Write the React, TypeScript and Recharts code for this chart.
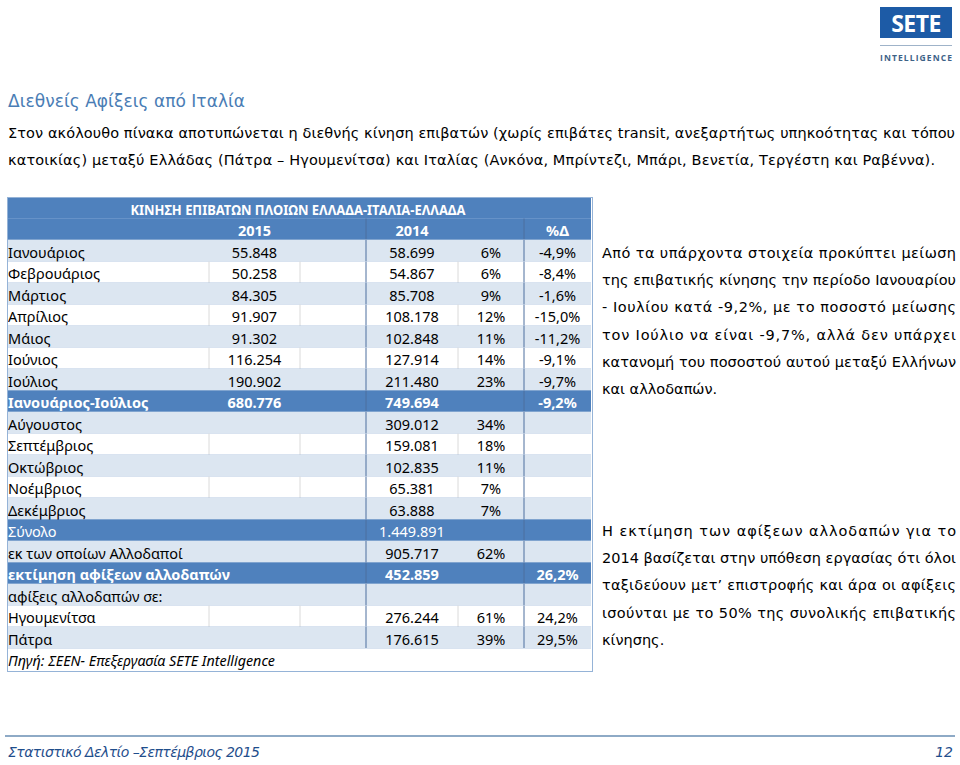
import React from "react";
import { BarChart, Bar, XAxis, YAxis } from "recharts";

// table rows (months and summary lines)
const rowLabels = [
  "Ιανουάριος",
  "Φεβρουάριος",
  "Μάρτιος",
  "Απρίλιος",
  "Μάιος",
  "Ιούνιος",
  "Ιούλιος",
  "Ιανουάριος-Ιούλιος",
  "Αύγουστος",
  "Σεπτέμβριος",
  "Οκτώβριος",
  "Νοέμβριος",
  "Δεκέμβριος",
  "Σύνολο",
  "εκ των οποίων Αλλοδαποί",
  "εκτίμηση αφίξεων αλλοδαπών",
  "αφίξεις αλλοδαπών σε:",
  "Ηγουμενίτσα",
  "Πάτρα",
];

const passengers2015 = [
  55848, 50258, 84305, 91907, 91302, 116254, 190902, 680776,
  null, null, null, null, null, null, null, null, null, null, null,
];

const passengers2014 = [
  58699, 54867, 85708, 108178, 102848, 127914, 211480, 749694,
  309012, 159081, 102835, 65381, 63888, 1449891, 905717, 452859, null, 276244, 176615,
];

const share2014 = [6, 6, 9, 12, 11, 14, 23, null, 34, 18, 11, 7, 7, null, 62, null, null, 61, 39];

const changePct = [
  -4.9, -8.4, -1.6, -15.0, -11.2, -9.1, -9.7, -9.2,
  null, null, null, null, null, null, null, 26.2, null, 24.2, 29.5,
];

const rowKinds = [
  "light", "white", "light", "white", "light", "white", "light", "darkBold",
  "light", "white", "light", "white", "light", "dark", "light", "darkBold",
  "light", "white", "light",
];

const TABLE_TITLE = "ΚΙΝΗΣΗ ΕΠΙΒΑΤΩΝ ΠΛΟΙΩΝ ΕΛΛΑΔΑ-ΙΤΑΛΙΑ-ΕΛΛΑΔΑ";
const yearLabels = ["2015", "2014", "%Δ"];
const SOURCE = "Πηγή: ΣΕΕΝ- Επεξεργασία SETE Intelligence";

const textLeft = [
  "Από τα υπάρχοντα στοιχεία προκύπτει μείωση",
  "της επιβατικής κίνησης την περίοδο Ιανουαρίου",
  "- Ιουλίου κατά -9,2%, με το ποσοστό μείωσης",
  "τον Ιούλιο να είναι -9,7%, αλλά δεν υπάρχει",
  "κατανομή του ποσοστού αυτού μεταξύ Ελλήνων",
  "και αλλοδαπών.",
];
const textRight = [
  "Η εκτίμηση των αφίξεων αλλοδαπών για το",
  "2014 βασίζεται στην υπόθεση εργασίας ότι όλοι",
  "ταξιδεύουν μετ’ επιστροφής και άρα οι αφίξεις",
  "ισούνται με το 50% της συνολικής επιβατικής",
  "κίνησης.",
];

const BLUE = "#4f81bd";
const LIGHT = "#dce6f1";
const TABLE_FONT = "'Noto Sans', sans-serif";
const PAGE_FONT = "'DejaVu Sans', Verdana, sans-serif";

const fmtInt = (n: number | null) =>
  n == null ? "" : String(n).replace(/\B(?=(\d{3})+(?!\d))/g, ".");
const fmtPct = (n: number | null) =>
  n == null ? "" : n.toFixed(1).replace(".", ",") + "%";

type Row = {
  key: string;
  kind: string;
  label: string;
  n: number;
  c2015: string;
  c2014: string;
  share: string;
  change: string;
};

const rows: Row[] = [
  { key: "h1", kind: "head1", label: "", n: 0, c2015: "", c2014: "", share: "", change: "" },
  { key: "h2", kind: "head2", label: "", n: 0, c2015: "", c2014: "", share: "", change: "" },
  ...rowLabels.map((label, i) => ({
    key: label,
    kind: rowKinds[i],
    label,
    n: passengers2014[i] ?? 0,
    c2015: fmtInt(passengers2015[i]),
    c2014: fmtInt(passengers2014[i]),
    share: share2014[i] == null ? "" : share2014[i] + "%",
    change: fmtPct(changePct[i]),
  })),
  { key: "src", kind: "source", label: SOURCE, n: 0, c2015: "", c2014: "", share: "", change: "" },
];

// column edges relative to the table's left side
const COL = { a: 202, b: 293, c: 359, d: 451, e: 517 };

function TableRow(props: any) {
  const { x, y, width, height, index } = props;
  const r: Row = rows[index];
  if (!r) return null;
  const cy = y + height / 2 + 0.5;
  const dark = r.kind.startsWith("dark") || r.kind.startsWith("head");
  const bg = dark ? BLUE : r.kind === "light" ? LIGHT : "#ffffff";
  const color = dark ? "#ffffff" : "#000000";
  const weight = r.kind === "darkBold" || r.kind.startsWith("head") ? 700 : 400;
  const txt = (tx: number, s: string, anchor: "start" | "middle" = "middle") =>
    s ? (
      <text
        x={x + tx}
        y={cy}
        dominantBaseline="central"
        textAnchor={anchor}
        fontFamily={TABLE_FONT}
        fontSize={14.5}
        fontWeight={weight}
        fill={color}
      >
        {s}
      </text>
    ) : null;

  return (
    <g>
      <rect x={x} y={y} width={width} height={height} fill={bg} />
      {r.kind === "white" &&
        [COL.a, COL.b, COL.d].map((cx) => (
          <line key={cx} x1={x + cx} x2={x + cx} y1={y} y2={y + height} stroke="#dadada" />
        ))}
      {r.kind !== "head1" && r.kind !== "source" &&
        [COL.c, COL.e].map((cx) => (
          <line key={cx} x1={x + cx} x2={x + cx} y1={y} y2={y + height} stroke="#4d6e9e" />
        ))}
      {r.kind !== "source" && (
        <line
          x1={x}
          x2={x + width}
          y1={y + height - 0.5}
          y2={y + height - 0.5}
          stroke={r.kind === "head1" ? "#7fa3d3" : "#b2c6e0"}
        />
      )}
      {r.kind === "head1" && (
        <text
          x={x + 291}
          y={cy}
          dominantBaseline="central"
          textAnchor="middle"
          fontFamily={TABLE_FONT}
          fontSize={14.5}
          fontWeight={700}
          fill="#ffffff"
          textLength={335}
          lengthAdjust="spacingAndGlyphs"
        >
          {TABLE_TITLE}
        </text>
      )}
      {r.kind === "head2" && (
        <>
          {txt((COL.a + COL.b) / 2, yearLabels[0])}
          {txt((COL.c + COL.d) / 2, yearLabels[1])}
          {txt((COL.e + width) / 2, yearLabels[2])}
        </>
      )}
      {r.kind === "source" ? (
        <text
          x={x + 1}
          y={cy}
          dominantBaseline="central"
          fontFamily={TABLE_FONT}
          fontSize={14}
          fontStyle="italic"
          fill="#000"
          textLength={267}
          lengthAdjust="spacingAndGlyphs"
        >
          {r.label}
        </text>
      ) : (
        txt(1, r.label, "start")
      )}
      {txt((COL.a + COL.b) / 2, r.c2015)}
      {txt((COL.c + COL.d) / 2, r.c2014)}
      {txt((COL.d + COL.e) / 2, r.share)}
      {txt((COL.e + width) / 2, r.change)}
    </g>
  );
}

function PassengerTable() {
  return (
    <BarChart
      width={584}
      height={473}
      data={rows}
      layout="vertical"
      margin={{ top: 0, right: 0, bottom: 0, left: 0 }}
      barCategoryGap={0}
    >
      <XAxis type="number" hide />
      <YAxis type="category" dataKey="key" hide />
      <Bar
        dataKey="n"
        isAnimationActive={false}
        background={(p: any) => <TableRow key={p.index} {...p} />}
        shape={() => <g />}
      />
    </BarChart>
  );
}

const line = (s: string, x: number, y: number, w?: number) => (
  <text
    x={x}
    y={y}
    fontFamily={PAGE_FONT}
    fontSize={14.5}
    fill="#000"
    textLength={w}
    lengthAdjust={w ? "spacing" : undefined}
  >
    {s}
  </text>
);

export default function App() {
  return (
    <div style={{ position: "absolute", left: 0, top: 0, width: 960, height: 765, background: "#fff", overflow: "hidden" }}>
      <svg width={960} height={765} style={{ position: "absolute", left: 0, top: 0 }}>
        {/* logo */}
        <rect x={880} y={7} width={72} height={31} fill="#1d5ba6" />
        <text x={916} y={32} textAnchor="middle" fontFamily="'Open Sans', sans-serif" fontWeight={700} fontSize={23} fill="#fff" letterSpacing={-0.5}>
          SETE
        </text>
        <line x1={880} x2={952} y1={45.5} y2={45.5} stroke="#9fb3c9" />
        <text x={916} y={61} textAnchor="middle" fontFamily="'Open Sans', sans-serif" fontWeight={700} fontSize={8.5} fill="#3e6287" textLength={72} lengthAdjust="spacing">
          INTELLIGENCE
        </text>

        <text x={8} y={107} fontFamily={PAGE_FONT} fontSize={17} fill="#4a7db5" textLength={237} lengthAdjust="spacing">
          Διεθνείς Αφίξεις από Ιταλία
        </text>
        {line("Στον ακόλουθο πίνακα αποτυπώνεται η διεθνής κίνηση επιβατών (χωρίς επιβάτες transit, ανεξαρτήτως υπηκοότητας και τόπου", 8, 138, 947)}
        {line("κατοικίας) μεταξύ Ελλάδας (Πάτρα – Ηγουμενίτσα) και Ιταλίας (Ανκόνα, Μπρίντεζι, Μπάρι, Βενετία, Τεργέστη και Ραβέννα).", 8, 165, 927)}

        {textLeft.map((s, i) => (
          <React.Fragment key={s}>{line(s, 602, 258 + i * 27.2, i < textLeft.length - 1 ? 354 : undefined)}</React.Fragment>
        ))}
        {textRight.map((s, i) => (
          <React.Fragment key={s}>{line(s, 602, 536 + i * 27.2, i < textRight.length - 1 ? 354 : undefined)}</React.Fragment>
        ))}

        {/* footer */}
        <line x1={5} x2={955} y1={736} y2={736} stroke="#8eaac6" strokeWidth={2} />
        <text x={8} y={757} fontFamily={PAGE_FONT} fontStyle="italic" fontSize={14} fill="#1f4e8c" textLength={252} lengthAdjust="spacing">
          Στατιστικό Δελτίο –Σεπτέμβριος 2015
        </text>
        <text x={953} y={757} textAnchor="end" fontFamily={PAGE_FONT} fontStyle="italic" fontSize={14} fill="#1f4e8c">
          12
        </text>
      </svg>
      <div style={{ position: "absolute", left: 7, top: 197 }}>
        <PassengerTable />
      </div>
      <div style={{ position: "absolute", left: 6.5, top: 196.5, width: 584, height: 473, border: "1px solid #95b3d7", pointerEvents: "none" }} />
    </div>
  );
}
